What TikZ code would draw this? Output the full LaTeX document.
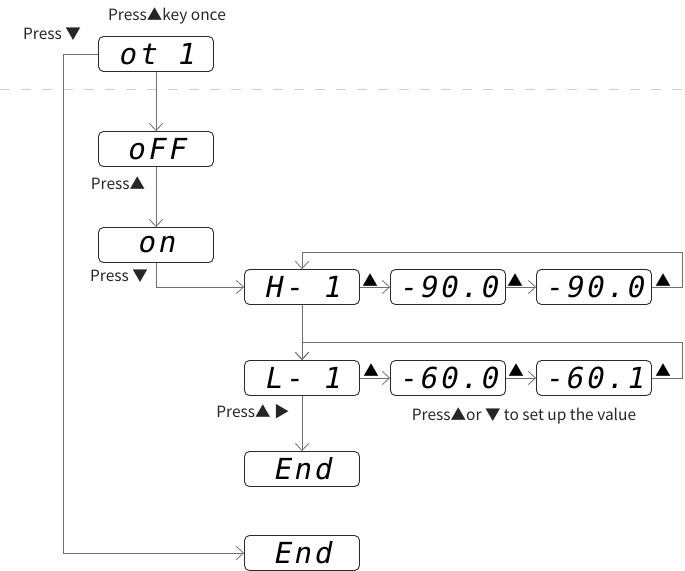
\documentclass[tikz,border=0pt]{standalone}
\usepackage{fontspec}
\usetikzlibrary{arrows.meta}
\newfontfamily\labfont{Noto Sans CJK SC}
\newfontfamily\segfont{DejaVu Sans Mono}[FakeSlant=0.2, LetterSpace=10]
\definecolor{linegray}{HTML}{6E6E6E}
\definecolor{boxline}{HTML}{2A2A2A}
\definecolor{dashgray}{HTML}{CFCFCF}
\tikzset{
  disp/.style={draw=boxline, line width=0.9pt, rounded corners=5pt,
    minimum width=115pt, minimum height=35pt, inner sep=0pt,
    font=\segfont\fontsize{29}{29}\selectfont},
  arr/.style={draw=linegray, line width=0.9pt,
    -{Straight Barb[length=7pt,width=13pt,line width=0.8pt]}},
  lab/.style={font=\labfont\fontsize{15.5}{17}\selectfont, text=black!85, inner sep=0pt},
  tri/.style={font=\labfont\fontsize{15.5}{17}\selectfont, text=black, inner sep=0pt}
}
\begin{document}
\begin{tikzpicture}[x=1pt,y=-1pt]
\useasboundingbox (0,0) rectangle (685,570);
% dashed separator
\draw[dashgray, line width=1pt, dash pattern=on 10pt off 11pt] (0,89) -- (685,89);
% displays
\node[disp] (ot)   at (156,54)  {ot 1};
\node[disp] (off)  at (156,149) {oFF};
\node[disp] (on)   at (156,245) {on};
\node[disp] (h1)   at (302,287) {H- 1};
\node[disp] (h2)   at (448,287) {-90.0};
\node[disp] (h3)   at (594,287) {-90.0};
\node[disp] (l1)   at (302,378) {L- 1};
\node[disp] (l2)   at (448,378) {-60.0};
\node[disp] (l3)   at (594,378) {-60.1};
\node[disp] (end1) at (302,469) {End};
\node[disp] (end2) at (302,553) {End};
% helper coordinates
\coordinate (rH) at (682,252);
\coordinate (rL) at (682,342);
\coordinate (lft) at (63,54);
% connectors
\draw[arr] (ot.south) -- (off.north);
\draw[arr] (off.south) -- (on.north);
\draw[arr] (on.south) |- (h1.west);
\draw[arr] (h1.east) -- (h2.west);
\draw[arr] (h2.east) -- (h3.west);
\draw[arr] (h3.east) -| (rH) -- (rH -| h1.north) -- (h1.north);
\draw[arr] (h1.south) -- (l1.north);
\draw[arr] (l1.east) -- (l2.west);
\draw[arr] (l2.east) -- (l3.west);
\draw[arr] (l3.east) -| (rL) -- (rL -| l1.north) -- (l1.north);
\draw[arr] (l1.south) -- (end1.north);
\draw[arr] (ot.west) -- (lft) |- (end2.west);
% labels
\node[lab] (t1) at (167,16) {Press▲key once};
\node[lab] (t2) at (52,34) {Press ▼};
\node[lab] (t3) at (118,183) {Press▲};
\node[lab] (t4) at (119,276) {Press ▼};
\node[lab] (t5) at (253,412) {Press▲ ▶};
\node[lab] (t6) at (524,416) {Press▲or ▼ to set up the value};
\node[tri] (a1) at (370,280) {▲};
\node[tri] (a2) at (515,280) {▲};
\node[tri] (a3) at (663,280) {▲};
\node[tri] (a4) at (371,370) {▲};
\node[tri] (a5) at (516,370) {▲};
\node[tri] (a6) at (663,370) {▲};
\end{tikzpicture}
\end{document}
